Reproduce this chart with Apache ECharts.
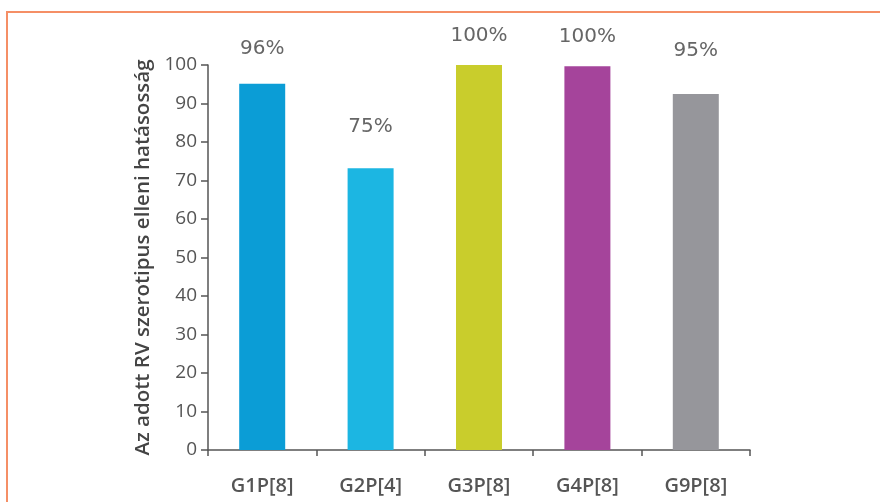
<!DOCTYPE html>
<html>
<head>
<meta charset="utf-8">
<script src="https://cdn.jsdelivr.net/npm/echarts@6/dist/echarts.min.js"></script>
<style>
  html, body { margin: 0; padding: 0; background: #fff; }
  #chart { width: 880px; height: 502px; }
</style>
</head>
<body>
<div id="chart"></div>
<script>
// 分类与数值
var categories = ['G1P[8]', 'G2P[4]', 'G3P[8]', 'G4P[8]', 'G9P[8]'];
var values = [95.1, 73.2, 100, 99.7, 92.5];
var labels = ['96%', '75%', '100%', '100%', '95%'];
var colors = ['#0b9dd6', '#1cb6e2', '#c9cd2c', '#a5449b', '#96969b'];
var labelGaps = [25, 31, 19, 19, 33]; // 标签与柱顶距离
var yTicks = [0, 10, 20, 30, 40, 50, 60, 70, 80, 90, 100];

function buildData() {
    return values.map(function (v, i) {
        return {
            value: v,
            itemStyle: { color: colors[i] },
            label: {
                show: true,
                position: 'top',
                distance: labelGaps[i],
                formatter: labels[i]
            }
        };
    });
}

var chart = echarts.init(document.getElementById('chart'));
var option = {
    backgroundColor: '#fff',
    animation: false,
    // 外框
    graphic: [{
        type: 'rect',
        shape: { x: 7, y: 12, width: 900, height: 520 },
        style: { fill: 'none', stroke: '#f58f66', lineWidth: 2 },
        silent: true
    }],
    grid: { left: 208, right: 130, top: 65, bottom: 52 },
    xAxis: {
        type: 'category',
        data: categories,
        axisLine: { lineStyle: { color: '#555', width: 1.5 } },
        axisTick: { show: true, length: 6, lineStyle: { color: '#555', width: 1.5 } },
        axisLabel: {
            margin: 26,
            fontSize: 20,
            fontWeight: 600,
            color: '#555',
            fontFamily: 'Open Sans'
        }
    },
    yAxis: {
        type: 'value',
        min: yTicks[0],
        max: yTicks[yTicks.length - 1],
        interval: 10,
        name: 'Az adott RV szerotipus elleni hatásosság',
        nameLocation: 'middle',
        nameRotate: 90,
        nameGap: 54,
        nameTextStyle: {
            fontSize: 20.5,
            fontWeight: 600,
            color: '#444',
            fontFamily: 'Open Sans'
        },
        splitLine: { show: false },
        axisLine: { show: true, lineStyle: { color: '#555', width: 1.5 } },
        axisTick: { show: true, length: 7, lineStyle: { color: '#555', width: 1.5 } },
        axisLabel: {
            margin: 11,
            fontSize: 19,
            color: '#555',
            fontFamily: 'Open Sans'
        }
    },
    series: [{
        type: 'bar',
        barWidth: 46,
        data: buildData(),
        label: {
            fontSize: 20,
            color: '#666',
            fontFamily: 'DejaVu Sans'
        }
    }]
};
chart.setOption(option);
</script>
</body>
</html>
